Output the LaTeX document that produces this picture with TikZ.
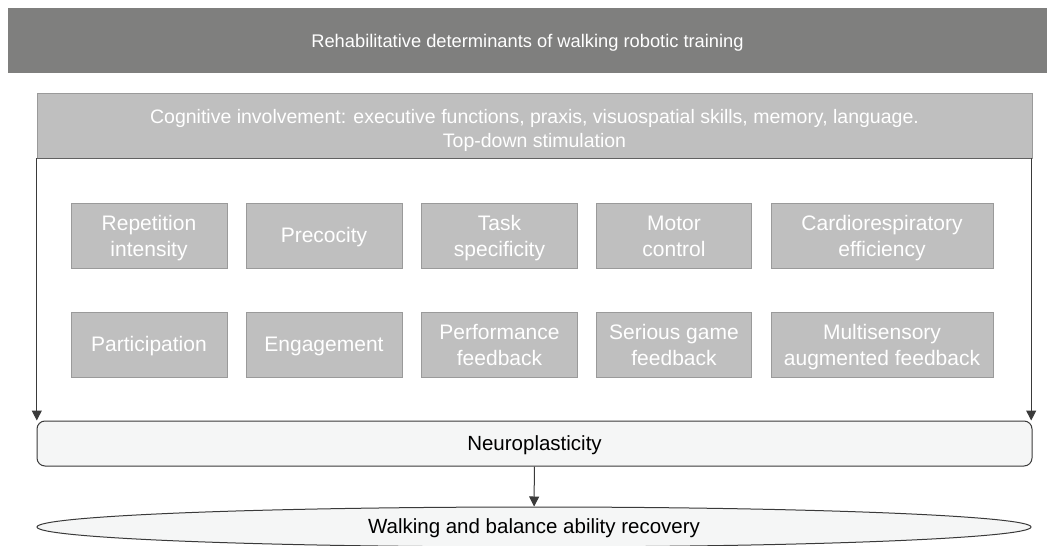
\documentclass[tikz,border=0pt]{standalone}
\usepackage{fontspec}
\setmainfont{Liberation Sans}
\usetikzlibrary{arrows.meta,shapes.geometric}
\definecolor{bardark}{HTML}{7F7F7E}
\definecolor{barlight}{HTML}{BFBFBF}
\definecolor{boxline}{HTML}{9A9A9A}
\definecolor{paleback}{HTML}{F5F6F6}
\definecolor{edgedark}{HTML}{3A3A3A}
\begin{document}
\begin{tikzpicture}[x=1pt, y=-1pt,
    oneline/.style={text height=17pt, text depth=4pt},
    twoline/.style={text height=45pt, text depth=4pt},
    factor/.style={draw=boxline, fill=barlight, text=white, minimum height=65pt,
                   inner sep=2pt, align=center, font=\fontsize{21}{26}\selectfont},
    flowline/.style={draw=edgedark, line width=1pt, -{Triangle[length=10pt,width=10pt]}}]
      \useasboundingbox (0, 0) rectangle (1047, 546);
      % heading bars
      \node (title) [fill=bardark, text=white, oneline, minimum width=1039pt, minimum height=65pt,
                     font=\fontsize{18.3}{22}\selectfont] at (527.5, 40.5)
            {Rehabilitative determinants of walking robotic training};
      \node (cog) [draw=boxline, fill=barlight, text=white, minimum width=995pt, minimum height=65pt,
                   text height=47pt, text depth=4pt,
                   align=center, font=\fontsize{19.5}{24}\selectfont] at (534.5, 125.5)
            {Cognitive involvement: executive functions, praxis, visuospatial skills, memory, language.\\
             Top-down stimulation};
      \draw[draw=edgedark!80, line width=1pt] (cog.south west) -- (cog.south east);
      % determinants
      \node (rep) [factor, twoline, minimum width=156pt] at (149, 235.5) {Repetition\\intensity};
      \node (prec) [factor, oneline, minimum width=156pt] at (324, 235.5) {Precocity};
      \node (task) [factor, twoline, minimum width=156pt] at (499.5, 235.5) {Task\\specificity};
      \node (motor) [factor, twoline, minimum width=155pt] at (674, 235.5) {Motor\\control};
      \node (cardio) [factor, twoline, minimum width=222pt] at (882, 235.5) {Cardiorespiratory\\efficiency};
      \node (part) [factor, oneline, minimum width=156pt] at (149, 344.5) {Participation};
      \node (eng) [factor, oneline, minimum width=156pt] at (324, 344.5) {Engagement};
      \node (perf) [factor, twoline, minimum width=156pt] at (499.5, 344.5) {Performance\\feedback};
      \node (game) [factor, twoline, minimum width=155pt] at (674, 344.5) {Serious game\\feedback};
      \node (multi) [factor, twoline, minimum width=222pt] at (882, 344.5) {Multisensory\\augmented feedback};
      % outcome
      \node (neuro) [draw=edgedark, fill=paleback, rounded corners=8pt, line width=1pt, oneline,
                     minimum width=995pt, minimum height=45pt,
                     font=\fontsize{20.5}{24}\selectfont] at (534.5, 443.5) {Neuroplasticity};
      \node (walk) [ellipse, draw=edgedark, fill=paleback, line width=1pt, inner sep=0pt, oneline,
                    minimum width=994pt, minimum height=40pt,
                    font=\fontsize{20.5}{24}\selectfont] at (534, 527) {Walking and balance ability recovery};
      \draw[flowline] (cog.south west) -- (cog.south west |- neuro.north);
      \draw[flowline] ([xshift=-1pt]cog.south east) -- ([xshift=-1pt]cog.south east |- neuro.north);
      \draw[flowline] (neuro) -- (walk);
\end{tikzpicture}
\end{document}
